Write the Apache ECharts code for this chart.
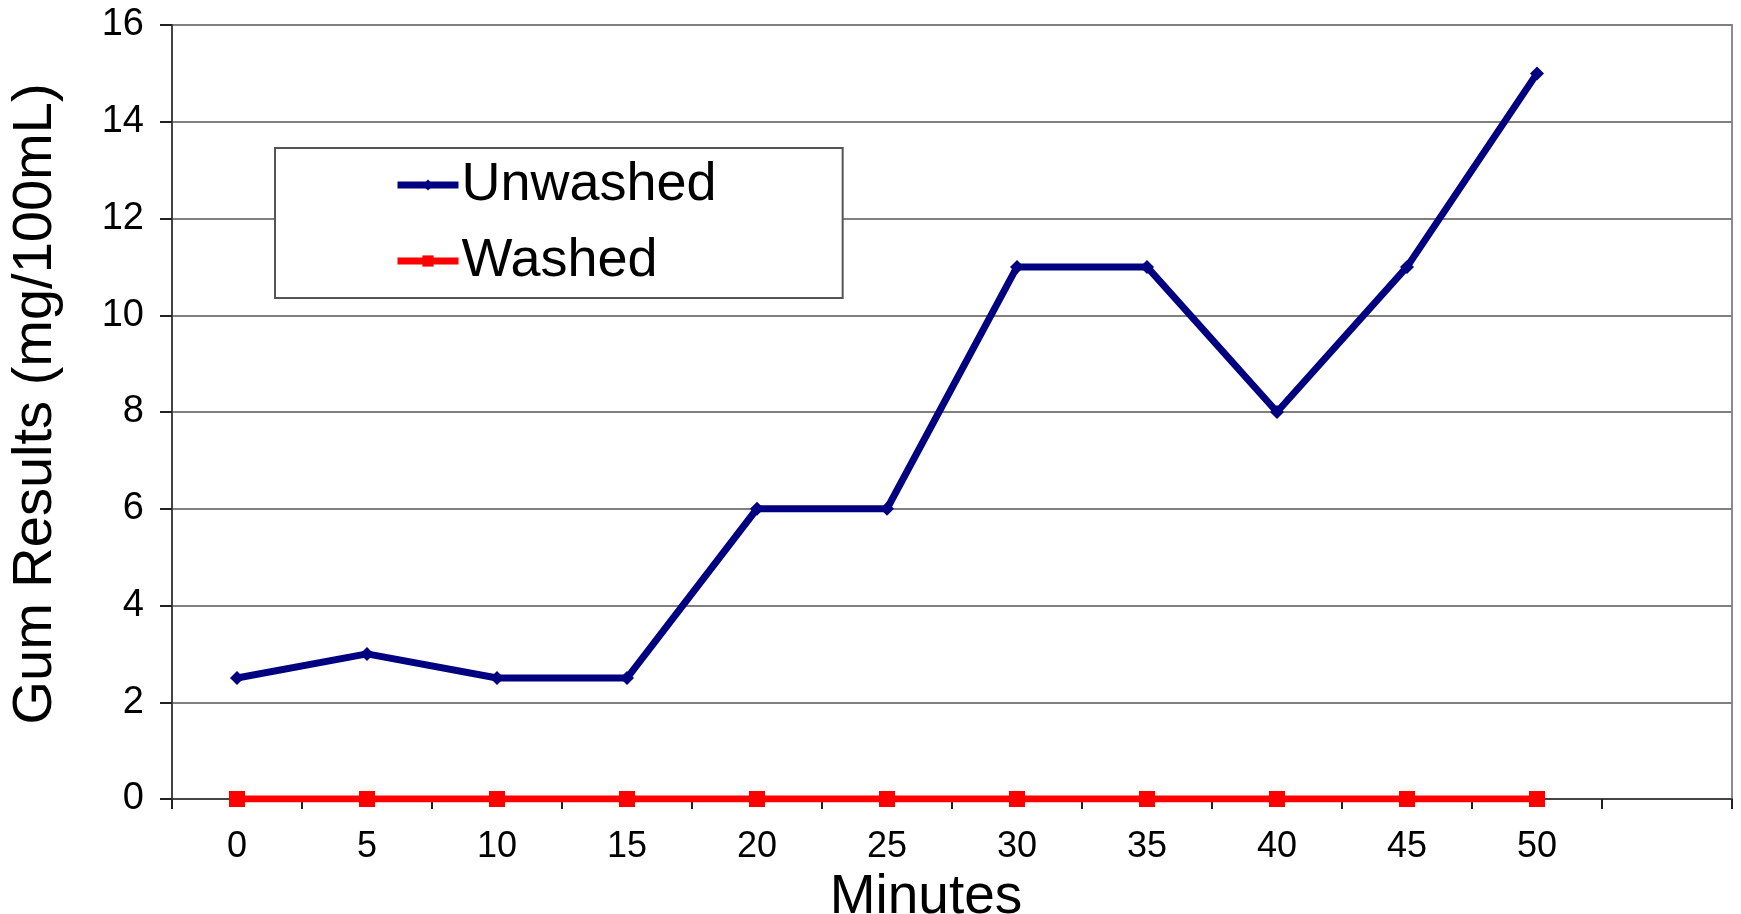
<!DOCTYPE html>
<html>
<head>
<meta charset="utf-8">
<script src="https://cdn.jsdelivr.net/npm/echarts@6/dist/echarts.min.js"></script>
<style>
  html, body { margin: 0; padding: 0; background: #fff; }
  #chart { width: 1741px; height: 914px; }
</style>
</head>
<body>
<div id="chart"></div>
<script>
// minutes (the last slot is an empty category, as in the original)
var minutes = ['0', '5', '10', '15', '20', '25', '30', '35', '40', '45', '50', ''];
var unwashed = [2.5, 3, 2.5, 2.5, 6, 6, 11, 11, 8, 11, 15];
var washed = [0, 0, 0, 0, 0, 0, 0, 0, 0, 0, 0];

var FONT = "'Liberation Sans', Arial, sans-serif";

var chart = echarts.init(document.getElementById('chart'));
chart.setOption({
	animation: false,
	backgroundColor: '#fff',
	grid: {
		left: 172,
		right: 9,
		top: 25,
		bottom: 115,
		outerBoundsMode: 'none',
		containLabel: false,
		show: true,
		borderColor: '#8c8c8c',
		borderWidth: 2
	},
	legend: {
		orient: 'vertical',
		left: 275,
		top: 148,
		padding: [10, 126, 10, 119],
		itemGap: 22,
		itemWidth: 61,
		itemHeight: 14,
		backgroundColor: '#fff',
		borderColor: '#555',
		borderWidth: 2,
		borderRadius: 0,
		lineStyle: { width: 7 },
		textStyle: {
			fontFamily: FONT,
			fontSize: 54,
			color: '#000',
			padding: [0, 0, 0, -2]
		},
		data: ['Unwashed', 'Washed']
	},
	xAxis: {
		type: 'category',
		data: minutes,
		boundaryGap: true,
		name: 'Minutes',
		nameLocation: 'middle',
		nameGap: 60,
		nameTextStyle: {
			fontFamily: FONT,
			fontSize: 55,
			color: '#000',
			padding: [0, 52, 0, 0]
		},
		axisLine: { lineStyle: { color: '#444', width: 2 } },
		axisTick: { show: true, interval: 0, length: 10, lineStyle: { color: '#222', width: 2 } },
		axisLabel: {
			interval: 0,
			margin: 30,
			fontFamily: FONT,
			fontSize: 36,
			color: '#000'
		},
		splitLine: { show: false }
	},
	yAxis: {
		type: 'value',
		min: 0,
		max: 16,
		interval: 2,
		name: 'Gum Results (mg/100mL)',
		nameLocation: 'middle',
		nameGap: 108,
		nameMoveOverlap: false,
		nameRotate: 90,
		nameTextStyle: {
			fontFamily: FONT,
			fontSize: 56,
			color: '#000',
			padding: [0, 0, 0, 16]
		},
		axisLine: { show: true, lineStyle: { color: '#444', width: 2 } },
		axisTick: { show: true, length: 12, lineStyle: { color: '#222', width: 2 } },
		axisLabel: {
			margin: 28,
			fontFamily: FONT,
			fontSize: 38,
			color: '#000'
		},
		splitLine: { show: true, lineStyle: { color: '#808080', width: 2 } }
	},
	series: [
		{
			name: 'Unwashed',
			type: 'line',
			data: unwashed,
			color: '#000080',
			symbol: 'diamond',
			symbolSize: 14,
			lineStyle: { color: '#000080', width: 7 },
			itemStyle: { color: '#000080' },
			z: 3
		},
		{
			name: 'Washed',
			type: 'line',
			data: washed,
			color: '#ff0000',
			symbol: 'rect',
			symbolSize: 16,
			lineStyle: { color: '#ff0000', width: 7 },
			itemStyle: { color: '#ff0000' },
			z: 4
		}
	]
});
</script>
</body>
</html>
